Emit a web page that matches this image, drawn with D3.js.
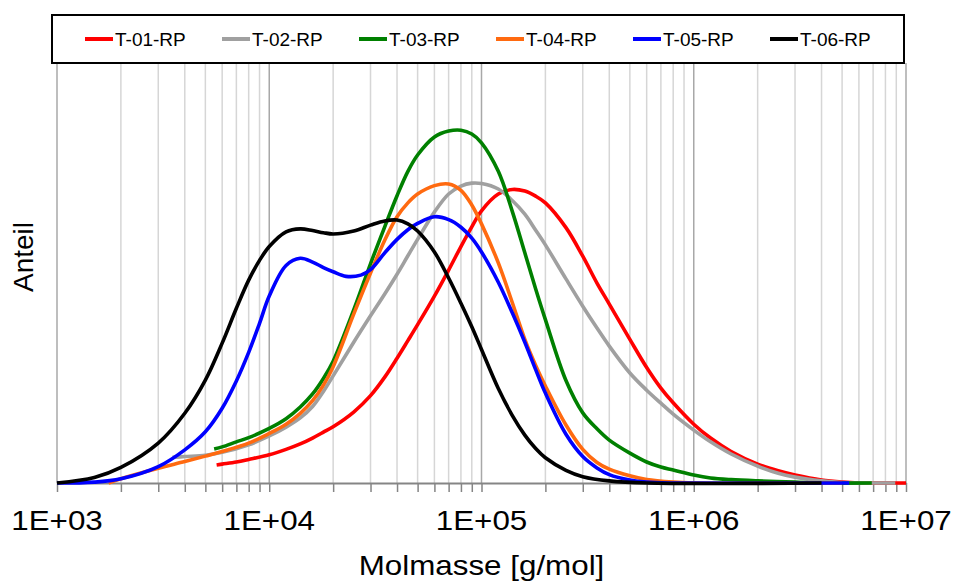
<!DOCTYPE html>
<html>
<head>
<meta charset="utf-8">
<script src="https://cdn.jsdelivr.net/npm/d3@7"></script>
<style>
  body { margin: 0; background: #fff; }
  svg { display: block; font-family: "Liberation Sans", Arial, sans-serif; }
</style>
</head>
<body>
<svg id="chart" width="955" height="581"></svg>
<script>
// Molar mass distributions (Anteil, relative units) for six samples
const seriesNames = ["T-01-RP", "T-02-RP", "T-03-RP", "T-04-RP", "T-05-RP", "T-06-RP"];
const seriesColors = ["#ff0000", "#a0a0a0", "#008000", "#ff6a10", "#0000ff", "#000000"];

const molmasseT01 = [5650, 6000, 7000, 8000, 10000, 12000, 14000, 16000, 18000, 20000, 25000, 30000, 35000, 40000, 45000, 50000, 60000, 70000, 80000, 90000, 100000, 120000, 140000, 160000, 180000, 200000, 250000, 300000, 350000, 400000, 500000, 600000, 700000, 800000, 1e6, 1.2e6, 1.5e6, 2e6, 2.5e6, 3e6, 4e6, 5e6, 6e6, 8e6, 1e7];
const anteilT01 = [0.043, 0.045, 0.050, 0.056, 0.067, 0.080, 0.093, 0.107, 0.121, 0.134, 0.169, 0.208, 0.252, 0.297, 0.339, 0.377, 0.445, 0.507, 0.563, 0.610, 0.648, 0.688, 0.699, 0.695, 0.683, 0.667, 0.608, 0.540, 0.476, 0.426, 0.342, 0.275, 0.226, 0.191, 0.140, 0.107, 0.075, 0.045, 0.029, 0.019, 0.007, 0.002, 0, 0, 0];

const molmasseT02 = [3500, 4000, 5000, 6000, 8000, 10000, 12000, 14000, 16000, 18000, 20000, 25000, 30000, 35000, 40000, 45000, 50000, 60000, 70000, 80000, 90000, 100000, 120000, 140000, 160000, 180000, 200000, 250000, 300000, 350000, 400000, 500000, 600000, 700000, 800000, 1e6, 1.2e6, 1.5e6, 2e6, 2.5e6, 3e6, 4e6, 5e6, 6e6, 8.9e6];
const anteilT02 = [0.061, 0.063, 0.066, 0.073, 0.091, 0.112, 0.133, 0.155, 0.182, 0.218, 0.255, 0.335, 0.398, 0.450, 0.497, 0.541, 0.580, 0.645, 0.688, 0.707, 0.714, 0.713, 0.700, 0.672, 0.640, 0.602, 0.567, 0.486, 0.421, 0.369, 0.326, 0.262, 0.221, 0.190, 0.164, 0.126, 0.098, 0.069, 0.040, 0.023, 0.014, 0.005, 0.001, 0, 0];

const molmasseT03 = [5500, 6000, 7000, 8000, 10000, 12000, 14000, 16000, 18000, 20000, 25000, 30000, 35000, 40000, 45000, 50000, 60000, 70000, 80000, 90000, 100000, 120000, 140000, 160000, 180000, 200000, 250000, 300000, 350000, 400000, 500000, 600000, 700000, 800000, 1e6, 1.2e6, 1.5e6, 2e6, 3e6, 4e6, 6.9e6];
const anteilT03 = [0.081, 0.086, 0.098, 0.108, 0.130, 0.153, 0.181, 0.212, 0.249, 0.290, 0.412, 0.522, 0.610, 0.684, 0.742, 0.781, 0.824, 0.838, 0.840, 0.831, 0.810, 0.742, 0.645, 0.548, 0.462, 0.389, 0.244, 0.167, 0.129, 0.102, 0.071, 0.050, 0.038, 0.031, 0.019, 0.012, 0.008, 0.005, 0.002, 0, 0];

const molmasseT04 = [1750, 2000, 3000, 4000, 5000, 6000, 8000, 10000, 12000, 14000, 16000, 18000, 20000, 25000, 30000, 35000, 40000, 45000, 50000, 60000, 70000, 80000, 90000, 100000, 120000, 140000, 160000, 180000, 200000, 250000, 300000, 350000, 400000, 500000, 600000, 800000, 1e6, 5e6];
const anteilT04 = [0, 0.010, 0.035, 0.051, 0.064, 0.075, 0.095, 0.118, 0.140, 0.166, 0.196, 0.233, 0.277, 0.402, 0.500, 0.578, 0.634, 0.667, 0.688, 0.708, 0.712, 0.697, 0.662, 0.617, 0.524, 0.428, 0.342, 0.280, 0.231, 0.138, 0.080, 0.049, 0.033, 0.017, 0.008, 0.002, 0, 0];

const molmasseT05 = [1000, 1500, 2000, 3000, 4000, 5000, 6000, 7000, 8000, 9000, 10000, 12000, 14000, 16000, 18000, 20000, 23000, 27000, 30000, 35000, 40000, 45000, 50000, 60000, 70000, 80000, 90000, 100000, 120000, 140000, 160000, 180000, 200000, 250000, 300000, 350000, 400000, 500000, 600000, 800000, 5.4e6];
const anteilT05 = [0, 0.002, 0.010, 0.039, 0.079, 0.122, 0.178, 0.243, 0.311, 0.380, 0.445, 0.518, 0.535, 0.526, 0.513, 0.503, 0.492, 0.495, 0.508, 0.548, 0.580, 0.603, 0.618, 0.634, 0.627, 0.609, 0.583, 0.550, 0.478, 0.404, 0.335, 0.270, 0.214, 0.116, 0.063, 0.036, 0.020, 0.007, 0.002, 0, 0];

const molmasseT06 = [1000, 1500, 2000, 3000, 4000, 5000, 6000, 7000, 8000, 9000, 10000, 12000, 14000, 16000, 18000, 20000, 25000, 30000, 35000, 40000, 45000, 50000, 60000, 70000, 80000, 90000, 100000, 120000, 140000, 160000, 180000, 200000, 250000, 300000, 400000, 600000, 4e6];
const anteilT06 = [0, 0.013, 0.037, 0.095, 0.166, 0.245, 0.333, 0.416, 0.483, 0.530, 0.563, 0.598, 0.605, 0.601, 0.596, 0.593, 0.600, 0.614, 0.624, 0.626, 0.617, 0.600, 0.550, 0.488, 0.428, 0.372, 0.318, 0.225, 0.160, 0.114, 0.082, 0.060, 0.030, 0.015, 0.005, 0, 0];

const majorTicks = [1e3, 1e4, 1e5, 1e6, 1e7];
const tickLabels = ["1E+03", "1E+04", "1E+05", "1E+06", "1E+07"];
const xTitle = "Molmasse [g/mol]";
const yTitle = "Anteil";

const series = [
  { name: seriesNames[0], color: seriesColors[0], m: molmasseT01, a: anteilT01 },
  { name: seriesNames[1], color: seriesColors[1], m: molmasseT02, a: anteilT02 },
  { name: seriesNames[2], color: seriesColors[2], m: molmasseT03, a: anteilT03 },
  { name: seriesNames[3], color: seriesColors[3], m: molmasseT04, a: anteilT04 },
  { name: seriesNames[4], color: seriesColors[4], m: molmasseT05, a: anteilT05 },
  { name: seriesNames[5], color: seriesColors[5], m: molmasseT06, a: anteilT06 }
];

const svg = d3.select("#chart");
const plot = { left: 57, right: 906, top: 63, bottom: 483 };

const x = d3.scaleLog().domain([1e3, 1e7]).range([plot.left, plot.right]);
const y = d3.scaleLinear().domain([0, 1]).range([plot.bottom, plot.top]);

// minor positions 2..9 within each decade
const minorTicks = [];
for (let e = 3; e < 7; e++) for (let k = 2; k <= 9; k++) minorTicks.push(k * Math.pow(10, e));

// vertical grid
svg.append("g").selectAll("line").data(minorTicks).join("line")
  .attr("x1", d => x(d)).attr("x2", d => x(d))
  .attr("y1", plot.top).attr("y2", plot.bottom)
  .attr("stroke", "#d6d6d6").attr("stroke-width", 1.5);
svg.append("g").selectAll("line").data(majorTicks).join("line")
  .attr("x1", d => x(d)).attr("x2", d => x(d))
  .attr("y1", plot.top).attr("y2", plot.bottom)
  .attr("stroke", "#a8a8a8").attr("stroke-width", 1.5);

// bottom axis with tick marks at every grid position
const axis = d3.axisBottom(x)
  .tickValues(minorTicks.concat(majorTicks))
  .tickFormat("")
  .tickSize(9)
  .tickSizeOuter(0);
const gAxis = svg.append("g").attr("transform", `translate(0,${plot.bottom})`).call(axis);
gAxis.select(".domain").attr("stroke", "#858585").attr("stroke-width", 2);
gAxis.selectAll(".tick line").attr("stroke", "#858585").attr("stroke-width", 1.5);

// tick labels
svg.append("g").selectAll("text").data(majorTicks).join("text")
  .attr("transform", d => `translate(${x(d)},530) scale(1.12,1)`)
  .attr("text-anchor", "middle")
  .attr("font-size", 28)
  .attr("fill", "#000")
  .text((d, i) => tickLabels[i]);

// axis titles
svg.append("text")
  .attr("transform", `translate(${(plot.left + plot.right) / 2},575) scale(1.12,1)`)
  .attr("text-anchor", "middle").attr("font-size", 28).text(xTitle);
svg.append("text")
  .attr("transform", "translate(33,257) rotate(-90)")
  .attr("text-anchor", "middle").attr("font-size", 28).text(yTitle);

// distribution curves
const line = d3.line()
  .x(d => x(d[0]))
  .y(d => y(Math.max(0, d[1])))
  .curve(d3.curveCatmullRom.alpha(0.5));

svg.append("g").selectAll("path").data(series).join("path")
  .attr("d", s => line(s.m.map((m, i) => [m, s.a[i]])))
  .attr("fill", "none")
  .attr("stroke", s => s.color)
  .attr("stroke-width", 3.6)
  .attr("stroke-linejoin", "round");

// legend
const legend = svg.append("g");
legend.append("rect")
  .attr("x", 52).attr("y", 15).attr("width", 852).attr("height", 48)
  .attr("fill", "#fff").attr("stroke", "#000").attr("stroke-width", 2);
const item = legend.selectAll("g.item").data(series).join("g")
  .attr("class", "item")
  .attr("transform", (d, i) => `translate(${85 + i * 137},39)`);
item.append("line")
  .attr("x1", 0).attr("x2", 28).attr("y1", 0).attr("y2", 0)
  .attr("stroke", d => d.color).attr("stroke-width", 4);
item.append("text")
  .attr("x", 30).attr("y", 7)
  .attr("font-size", 19).attr("fill", "#000")
  .text(d => d.name);
</script>
</body>
</html>
